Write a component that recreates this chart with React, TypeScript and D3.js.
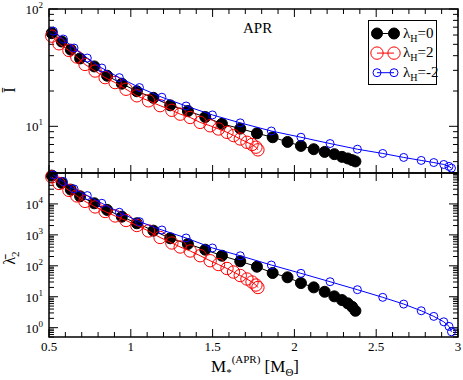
import React from "react";
import * as d3 from "d3";

// lambda_H = 0 (black, filled)
const massA = [0.517, 0.578, 0.633, 0.69, 0.777, 0.855, 0.945, 1.037, 1.138, 1.241, 1.349, 1.455, 1.557, 1.669, 1.771, 1.867, 1.958, 2.04, 2.118, 2.185, 2.244, 2.291, 2.326, 2.353, 2.373];
const ibarA = [62.2, 52.8, 45.0, 37.9, 32.4, 27.0, 23.1, 19.9, 17.5, 15.1, 13.5, 12.0, 10.5, 9.56, 8.72, 8.07, 7.36, 6.81, 6.38, 6.05, 5.79, 5.49, 5.32, 5.15, 5.02];
const loveA = [82400, 47900, 29000, 17700, 10500, 6400, 3880, 2370, 1370, 776, 508, 332, 212, 140, 93.5, 58.5, 42.5, 27.7, 20.1, 14.5, 10.3, 7.82, 6.11, 4.74, 3.52];

// lambda_H = 2 (red, open)
const massB = [0.517, 0.561, 0.622, 0.67, 0.72, 0.782, 0.843, 0.904, 0.971, 1.037, 1.108, 1.179, 1.251, 1.302, 1.363, 1.424, 1.485, 1.536, 1.588, 1.628, 1.669, 1.71, 1.741, 1.765, 1.777];
const ibarB = [58.7, 50.5, 44.3, 39.0, 33.7, 29.6, 26.0, 23.6, 20.7, 18.2, 16.5, 15.0, 13.7, 12.7, 11.9, 10.8, 10.1, 9.49, 8.89, 8.34, 7.8, 7.31, 7.0, 6.64, 6.3];
const loveB = [74800, 46000, 27400, 18200, 12100, 8000, 5710, 4090, 2920, 2010, 1340, 824, 547, 406, 301, 212, 146, 110, 81.8, 63.0, 48.5, 37.4, 29.9, 23.9, 19.9];

// lambda_H = -2 (blue, small open)
const massC = [0.526, 0.588, 0.653, 0.734, 0.823, 0.93, 1.053, 1.19, 1.338, 1.499, 1.669, 1.859, 2.04, 2.218, 2.385, 2.54, 2.668, 2.775, 2.852, 2.913, 2.945, 2.96];
const ibarC = [64.7, 55.4, 46.5, 38.2, 31.4, 26.0, 21.4, 17.7, 14.9, 12.5, 10.7, 9.12, 8.07, 7.13, 6.38, 5.87, 5.43, 5.12, 4.91, 4.73, 4.55, 4.4];
const loveC = [86900, 52700, 30600, 18600, 10500, 5380, 2670, 1440, 794, 377, 211, 106, 57.1, 30.6, 16.9, 9.57, 5.8, 3.52, 2.32, 1.55, 1.1, 0.736];

const xTickLabels = ["0.5", "1", "1.5", "2", "2.5", "3"];
const topDecades = [10, 100];
const botDecades = [1, 10, 100, 1000, 10000];
const legendLabels = ["0", "2", "-2"];

const FONT = "'Liberation Serif', 'Times New Roman', 'DejaVu Serif', serif";

const left = 49;
const right = 458;
const topY = 9;
const midY = 173;
const bottomY = 337;

const x = d3.scaleLinear().domain([0.5, 3]).range([left, right]);
const yTop = d3.scaleLog().domain([4, 100]).range([midY, topY]);
const yBot = d3.scaleLog().domain([0.5, 1e5]).range([bottomY, midY]);

const series = [
  { mass: massA, top: ibarA, bot: loveA, color: "#000000", r: 5.5, fill: "#000000" },
  { mass: massB, top: ibarB, bot: loveB, color: "#ff0000", r: 6.2, fill: "none" },
  { mass: massC, top: ibarC, bot: loveC, color: "#0000ff", r: 4, fill: "none" },
];

const isDecade = (v: number) => Math.abs(Math.log10(v) - Math.round(Math.log10(v))) < 1e-9;

function Panel({ y, y0, y1, id, decades }: any) {
  const xTicks = x.ticks(25);
  const yTicks = y.ticks();
  return (
    <g>
      {xTicks.map((t: number, i: number) => {
        const major = Math.abs(t * 2 - Math.round(t * 2)) < 1e-9;
        const len = major ? 8 : 5;
        return (
          <g key={`xt${id}${i}`} stroke="#000" strokeWidth={1}>
            <line x1={x(t)} x2={x(t)} y1={y0} y2={y0 + len} />
            <line x1={x(t)} x2={x(t)} y1={y1} y2={y1 - len} />
          </g>
        );
      })}
      {yTicks.map((t: number, i: number) => {
        const len = isDecade(t) ? 9 : 5;
        return (
          <g key={`yt${id}${i}`} stroke="#000" strokeWidth={1}>
            <line x1={left} x2={left + len} y1={y(t)} y2={y(t)} />
            <line x1={right} x2={right - len} y1={y(t)} y2={y(t)} />
          </g>
        );
      })}
      {decades.map((t: number, i: number) => (
        <text key={`yl${id}${i}`} x={43} y={y(t) + 5} textAnchor="end" fontSize={13} fontFamily={FONT}>
          10
          <tspan dy={-6} fontSize={9}>{Math.round(Math.log10(t))}</tspan>
        </text>
      ))}
    </g>
  );
}

export default function App() {
  const lineTop = (s: any) =>
    d3.line<number>().x((_, i) => x(s.mass[i])).y((d) => yTop(d))(s.top) || "";
  const lineBot = (s: any) =>
    d3.line<number>().x((_, i) => x(s.mass[i])).y((d) => yBot(d))(s.bot) || "";

  return (
    <svg
      width={463}
      height={380}
      style={{ position: "absolute", left: 0, top: 0, background: "#fff" }}
      fontFamily={FONT}
    >
      <rect x={0} y={0} width={463} height={380} fill="#fff" />
      <Panel y={yTop} y0={topY} y1={midY} id="t" decades={topDecades} />
      <Panel y={yBot} y0={midY} y1={bottomY} id="b" decades={botDecades} />

      {series.map((s, k) => (
        <g key={`s${k}`}>
          <path d={lineTop(s)} fill="none" stroke={s.color} strokeWidth={1} />
          <path d={lineBot(s)} fill="none" stroke={s.color} strokeWidth={1} />
          {s.mass.map((m: number, i: number) => (
            <g key={i}>
              <circle cx={x(m)} cy={yTop(s.top[i])} r={s.r} fill={s.fill} stroke={s.color} strokeWidth={1} />
              <circle cx={x(m)} cy={yBot(s.bot[i])} r={s.r} fill={s.fill} stroke={s.color} strokeWidth={1} />
            </g>
          ))}
        </g>
      ))}

      {/* frames */}
      <rect x={left} y={topY} width={right - left} height={midY - topY} fill="none" stroke="#000" strokeWidth={1.5} />
      <rect x={left} y={midY} width={right - left} height={bottomY - midY} fill="none" stroke="#000" strokeWidth={1.5} />

      {/* x tick labels */}
      {xTickLabels.map((lab) => (
        <text key={lab} x={x(+lab)} y={351} textAnchor="middle" fontSize={13}>
          {lab}
        </text>
      ))}

      {/* axis titles */}
      <text x={211} y={372} fontSize={17}>
        M
        <tspan dy={4} fontSize={11}>*</tspan>
        <tspan dy={-13} fontSize={11}>(APR)</tspan>
        <tspan dy={9}> [M</tspan>
        <tspan dy={4} fontSize={11}>Θ</tspan>
        <tspan dy={-4}>]</tspan>
      </text>
      <text transform="translate(15,90) rotate(-90)" textAnchor="middle" fontSize={16}>
        Ī
      </text>
      <text transform="translate(15,258) rotate(-90)" textAnchor="middle" fontSize={16}>
        λ̄
        <tspan dy={4} fontSize={11}>2</tspan>
      </text>

      <text x={243} y={33} fontSize={15}>APR</text>

      {/* legend */}
      <rect x={368.5} y={20.5} width={68} height={64} fill="#fff" stroke="#000" strokeWidth={1} />
      {series.map((s, k) => {
        const ly = 33.5 + k * 19.6;
        return (
          <g key={`lg${k}`}>
            <line x1={377} x2={394} y1={ly} y2={ly} stroke={s.color} strokeWidth={1} />
            <circle cx={377} cy={ly} r={s.r} fill={s.fill} stroke={s.color} />
            <circle cx={394} cy={ly} r={s.r} fill={s.fill} stroke={s.color} />
            <text x={403} y={ly + 4} fontSize={15}>
              λ
              <tspan dy={4} fontSize={10}>H</tspan>
              <tspan dy={-4}>={legendLabels[k]}</tspan>
            </text>
          </g>
        );
      })}
    </svg>
  );
}
